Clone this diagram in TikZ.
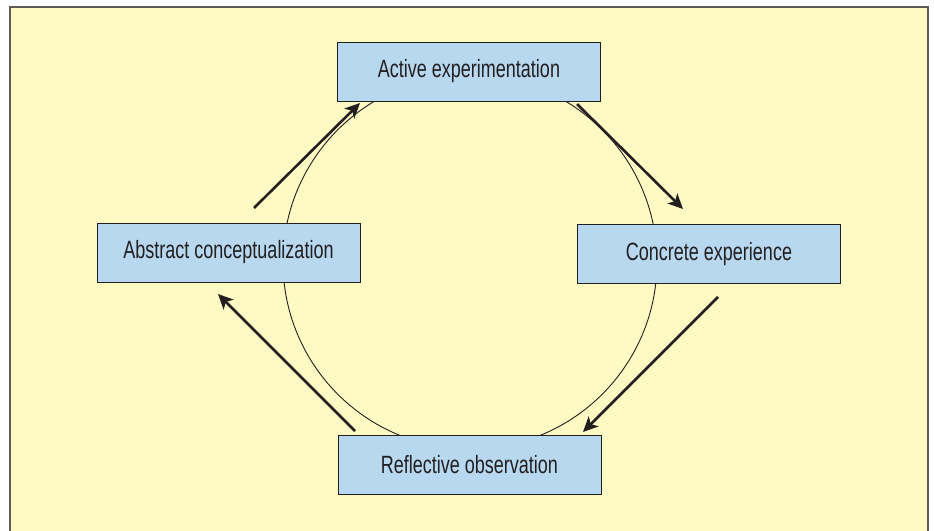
\documentclass[tikz,border=0pt]{standalone}
\usepackage{fontspec}
\setmainfont{Liberation Sans}[FakeStretch=0.72]
\usetikzlibrary{arrows.meta}

\definecolor{panelyellow}{RGB}{255,249,196}
\definecolor{panelrim}{RGB}{95,90,85}
\definecolor{boxblue}{RGB}{184,216,240}
\definecolor{inkdark}{RGB}{35,31,32}

\tikzset{
	stage/.style={shape=rectangle,draw=inkdark,line width=1pt,fill=boxblue,
		minimum width=263pt,minimum height=59pt,inner sep=0pt,
		font=\fontsize{25}{29}\selectfont,text=inkdark},
	flow/.style={draw=inkdark,line width=2.6pt,-{Stealth[length=15pt,width=14pt,inset=4pt]}}
}

\begin{document}
\begin{tikzpicture}[x=1pt,y=-1pt]

	\useasboundingbox (0,0) rectangle (934,530);
	\fill[white] (0,0) rectangle (934,530);
	\fill[panelyellow] (10,7) rectangle (928,535);
	\draw[panelrim,line width=2pt] (10,535) -- (10,7) -- (928,7) -- (928,535);

	\node[shape=circle,draw=inkdark,line width=0.9pt,minimum size=374pt,inner sep=0pt] (loop) at (470,262) {};

	\node[stage] (active)   at (469,71.5)   {Active experimentation};
	\node[stage] (abstract) at (228.5,252.5) {Abstract conceptualization};
	\node[stage] (concrete) at (709,254)    {Concrete experience};
	\node[stage] (reflect)  at (469.5,464.5) {Reflective observation};

	\coordinate (ab2ac) at (254,208);
	\coordinate (ac2ab) at (360,103);
	\coordinate (ac2co) at (577,104);
	\coordinate (co2ac) at (683,209);
	\coordinate (co2re) at (718,297);
	\coordinate (re2co) at (583,432);
	\coordinate (re2ab) at (355,431);
	\coordinate (ab2re) at (218,294);

	\draw[flow] (ab2ac) -- (ac2ab);
	\draw[flow] (ac2co) -- (co2ac);
	\draw[flow] (co2re) -- (re2co);
	\draw[flow] (re2ab) -- (ab2re);

\end{tikzpicture}
\end{document}
